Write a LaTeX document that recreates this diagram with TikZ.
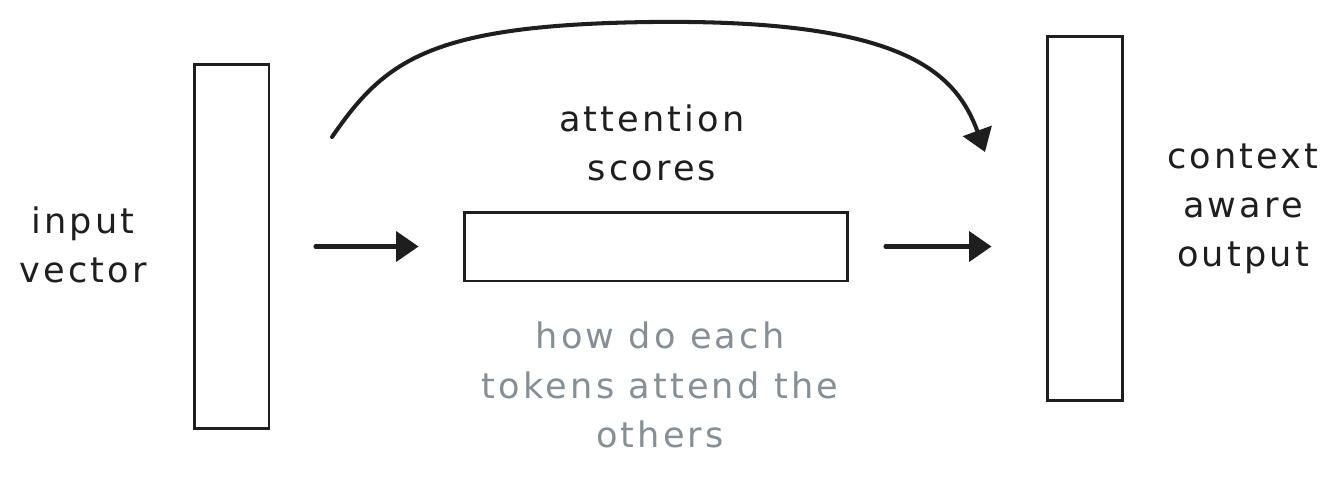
\documentclass[tikz,border=0pt]{standalone}
\usepackage{fontspec}
\setmainfont{DejaVu Sans}[LetterSpace=9]
\usetikzlibrary{arrows.meta}
\definecolor{ink}{HTML}{1E1E1E}
\definecolor{note}{HTML}{868E96}
\begin{document}
\begin{tikzpicture}[x=0.02cm,y=-0.02cm,
  box/.style={draw=ink, line width=1.7pt, fill=white, inner sep=0pt},
  arr/.style={draw=ink, line width=2.3pt, line cap=round, -{Triangle[length=0.45cm,width=0.6cm]}},
  lbl/.style={text=ink, align=center, font=\fontsize{20}{28}\selectfont},
  notelbl/.style={text=note, align=center, font=\fontsize{20}{28}\selectfont}]
\useasboundingbox (0,0) rectangle (1341,481);
\node[box, minimum width=1.5cm, minimum height=7.3cm] (inrect) at (231.5,246.5) {};
\node[box, minimum width=1.5cm, minimum height=7.3cm] (outrect) at (1084.5,218.5) {};
\node[box, minimum width=7.68cm, minimum height=1.38cm] (att) at (656,246.5) {};
\node[lbl] (inlbl) at (83,245) {input\\vector};
\node[lbl] (attlbl) at (652,143) {attention\\scores};
\node[lbl] (outlbl) at (1243,209) {context\\aware\\output};
\node[notelbl] (notel) at (660,385) {how do each\\tokens attend the\\others};
\draw[arr, shorten <=0.9cm, shorten >=0.88cm] (inrect.east) -- (att.west);
\draw[arr, shorten <=0.72cm, shorten >=1.08cm] (att.east) -- (att.east -| outrect.west);
\coordinate (cs) at (332,137);
\coordinate (ce) at (985,152);
\draw[arr] (cs) .. controls (385,60) and (430,25) .. (650,22) .. controls (900,19) and (955,70) .. (ce);
\end{tikzpicture}
\end{document}
